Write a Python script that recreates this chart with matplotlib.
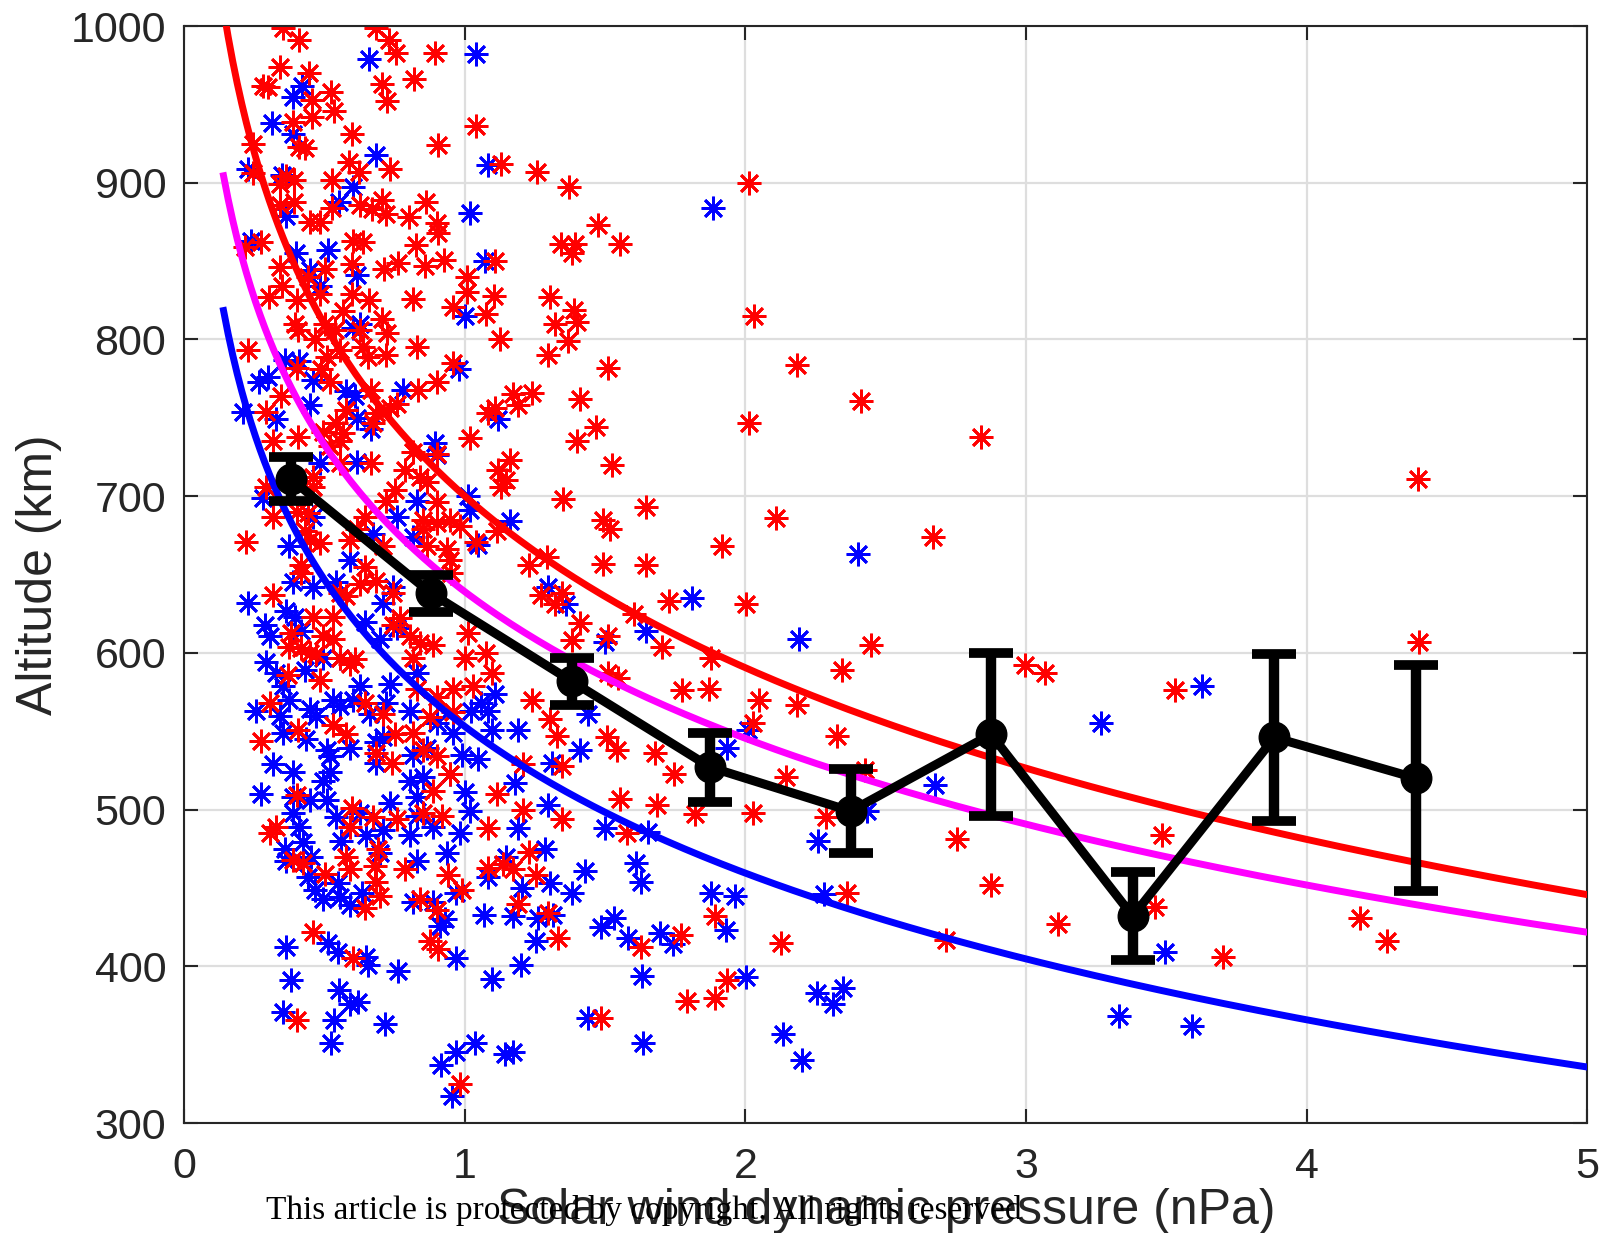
import matplotlib
matplotlib.use('Agg')
import matplotlib.pyplot as plt
import numpy as np

# individual crossings: solar wind dynamic pressure (nPa) vs altitude (km)
red_p = [
    0.352, 0.409, 0.685, 0.73, 0.753, 0.895, 0.342, 0.445, 0.704, 0.82, 0.28, 0.30, 0.523, 0.457,
    0.724, 0.533, 0.457, 0.387, 0.599, 0.43, 0.41, 0.904, 0.245, 0.588, 0.623, 0.733, 0.364, 0.34,
    0.39, 0.525, 0.245, 0.626, 0.67, 0.706, 0.72, 0.86, 0.80, 0.34, 0.39, 0.525, 0.447, 0.485,
    0.90, 0.905, 0.275, 0.215, 0.60, 0.637, 0.826, 0.34, 0.50, 0.596, 0.763, 0.711, 0.858, 0.926,
    0.441, 0.35,
    1.039, 1.13, 1.256, 1.371, 1.476, 1.342, 1.392, 1.38, 1.553, 1.107, 1.009, 1.009, 1.104, 1.303,
    0.40, 0.483, 0.66, 0.302, 0.596, 0.816, 0.957, 0.566, 0.393, 0.405, 0.50, 0.536, 0.703, 0.723,
    0.626, 0.465, 0.227, 0.828, 0.637, 0.554, 0.507, 0.655, 0.72, 0.40, 0.489, 0.518, 0.959, 0.90,
    0.834, 0.667, 0.346, 0.757, 0.733, 0.292, 0.578, 0.685, 0.673, 0.542, 0.495, 0.405, 0.566, 0.554,
    0.316, 0.518, 0.90, 0.816, 0.786, 0.667, 0.554, 0.459, 0.459, 0.84, 0.864, 0.751, 0.72, 0.90,
    0.292, 0.316, 0.40, 0.44, 0.644, 0.614, 0.852, 0.90, 0.947, 0.983, 0.852, 0.221, 0.43, 0.447,
    0.483, 0.59, 0.709, 0.864, 0.935, 0.947,
    1.077, 1.39, 1.398, 1.321, 1.124, 1.368, 1.295, 1.511, 1.172, 1.238, 1.19, 1.41, 1.083, 1.107,
    1.466, 1.398, 1.017, 1.523, 1.16, 1.118, 1.148, 1.13, 1.351, 1.645, 1.493, 1.517, 1.916, 1.113,
    1.041, 1.291, 1.23, 1.493, 1.645,
    0.417, 0.417, 0.643, 0.685, 0.626, 0.316, 0.554, 0.578, 0.745, 0.459, 0.53, 0.745, 0.769, 0.381,
    0.495, 0.53, 0.375, 0.417, 0.447, 0.471, 0.554, 0.607, 0.59, 0.804, 0.84, 0.887, 0.816, 0.37,
    0.483, 0.828, 0.899, 0.959, 0.304, 0.643, 0.709, 0.875, 0.959, 0.405, 0.53, 0.578, 0.751, 0.816,
    0.275, 0.685, 0.739, 0.852, 0.899, 0.947, 0.40, 0.887, 0.596, 0.59, 0.673, 0.757, 0.852, 0.917,
    0.328, 0.304,
    0.952, 1.273, 1.321, 1.345, 1.726, 1.601, 1.41, 1.011, 1.38, 1.511, 1.702, 1.878, 1.077, 1.0,
    1.095, 1.511, 1.547, 1.029, 1.238, 1.773, 1.869, 1.303, 1.327, 1.505, 1.541, 1.678, 1.744, 1.208,
    1.345, 1.113, 1.553, 1.684, 1.208, 1.345, 1.821, 1.083, 1.577,
    0.387, 0.423, 0.50, 0.578, 0.59, 0.679, 0.691, 0.685, 0.697, 0.643, 0.786, 0.941, 0.99, 0.84,
    0.899, 0.459, 0.602, 0.875, 0.905, 0.40, 0.983,
    1.083, 1.136, 1.172, 1.228, 1.255, 1.19, 1.295, 1.333, 1.628, 1.771, 1.893, 1.791, 1.893, 1.485,
    2.012, 2.032, 2.182, 2.412, 2.012, 2.839, 2.108, 2.667, 4.398, 4.40, 2.002, 2.447, 2.343, 2.996,
    3.067, 3.531, 2.049, 2.182, 2.028, 2.325, 2.144, 2.426, 2.028, 2.287, 2.753, 3.483, 2.363, 2.874,
    3.115, 3.459, 2.125, 2.716, 1.935, 3.702, 4.19, 4.285,
]
red_h = [
    999, 991, 999, 991, 983, 983, 974, 970, 963, 966, 962, 961, 958, 953,
    952, 946, 942, 939, 931, 922, 923, 924, 925, 913, 907, 909, 904, 899,
    902, 902, 906, 886, 883, 889, 880, 888, 878, 886, 888, 884, 875, 875,
    874, 868, 862, 859, 863, 862, 860, 846, 845, 848, 849, 845, 847, 851,
    840, 834,
    936, 912, 907, 897, 873, 861, 861, 855, 861, 850, 840, 830, 828, 827,
    825, 829, 825, 827, 829, 826, 821, 818, 810, 806, 810, 806, 813, 804,
    806, 800, 793, 795, 795, 793, 789, 789, 790, 782, 781, 773, 785, 773,
    768, 768, 764, 759, 756, 754, 755, 753, 747, 747, 741, 738, 740, 735,
    735, 732, 727, 728, 717, 721, 721, 712, 706, 712, 709, 704, 697, 696,
    706, 687, 690, 689, 687, 679, 685, 683, 685, 681, 679, 671, 678, 672,
    670, 672, 668, 668, 666, 659,
    816, 819, 811, 810, 800, 799, 790, 782, 765, 766, 758, 762, 753, 756,
    744, 735, 737, 720, 723, 717, 710, 706, 698, 693, 685, 679, 668, 678,
    671, 661, 656, 657, 656,
    656, 651, 655, 646, 644, 637, 638, 636, 638, 623, 623, 618, 622, 613,
    611, 609, 604, 603, 600, 599, 597, 596, 593, 611, 606, 605, 597, 586,
    583, 577, 572, 577, 568, 568, 561, 559, 562, 551, 554, 548, 548, 549,
    544, 536, 530, 538, 534, 523, 509, 512, 501, 489, 495, 494, 498, 496,
    489, 485,
    651, 637, 631, 638, 633, 625, 619, 613, 608, 611, 604, 597, 600, 597,
    587, 587, 584, 579, 570, 576, 577, 558, 547, 546, 538, 536, 523, 529,
    528, 510, 507, 503, 500, 494, 497, 488, 485,
    468, 466, 459, 470, 462, 464, 475, 454, 445, 437, 462, 458, 449, 443,
    436, 422, 405, 416, 411, 366, 325,
    463, 465, 462, 473, 458, 440, 434, 418, 412, 420, 432, 378, 380, 367,
    900, 815, 784, 761, 747, 738, 686, 674, 711, 607, 631, 605, 589, 592,
    587, 576, 570, 567, 555, 547, 521, 525, 498, 495, 481, 484, 447, 452,
    427, 438, 415, 417, 391, 406, 431, 416,
]

blue_p = [
    0.657, 0.418, 0.387, 0.314, 0.387, 0.683, 0.227, 0.35, 0.60, 0.552, 0.364, 0.239, 0.397, 0.514,
    0.447, 0.617, 0.483,
    1.039, 1.083, 1.019, 1.883, 1.071,
    0.626, 0.602, 0.358, 0.41, 0.268, 0.298, 0.459, 0.578, 0.607, 0.78, 0.209, 0.447, 0.328, 0.614,
    0.667, 0.893, 0.90, 0.483, 0.614, 0.28, 0.828, 0.757, 0.459, 0.673, 0.816, 0.375, 0.59,
    0.999, 0.98, 1.118, 1.011, 1.017, 1.16, 1.045,
    0.387, 0.459, 0.227, 0.364, 0.393, 0.286, 0.304, 0.417, 0.542, 0.709, 0.745, 0.643, 0.697, 0.757,
    0.554, 0.495, 0.292, 0.328, 0.352, 0.43, 0.626, 0.733, 0.828, 0.256, 0.34, 0.375, 0.447, 0.47,
    0.53, 0.554, 0.60, 0.661, 0.72, 0.804, 0.352, 0.435, 0.507, 0.518, 0.59, 0.685, 0.709, 0.899,
    0.959, 0.316, 0.387, 0.495, 0.518, 0.685, 0.816, 0.864, 0.804, 0.852, 0.275, 0.387, 0.447, 0.507,
    0.733, 0.828, 0.947, 0.387, 0.41, 0.542, 0.626, 0.828, 0.887, 0.709,
    1.297, 1.362, 1.809, 1.645, 1.499, 1.107, 1.059, 1.023, 1.083, 1.44, 1.095, 1.19, 0.988, 1.047,
    1.41, 1.309, 1.178, 1.0, 1.017, 1.297, 1.19, 1.499, 1.654, 0.982,
    0.423, 0.358, 0.453, 0.364, 0.56, 0.649, 0.804, 0.828, 0.441, 0.465, 0.495, 0.548, 0.554, 0.59,
    0.632, 0.697, 0.816, 0.887, 0.911, 0.935, 0.97, 0.361, 0.512, 0.548, 0.649, 0.655, 0.762, 0.97,
    0.381, 0.552, 0.59, 0.62, 0.352, 0.533, 0.715, 0.524, 0.97, 0.914, 0.953,
    1.148, 1.083, 1.285, 1.428, 1.61, 1.628, 1.202, 1.303, 1.38, 1.069, 1.172, 1.261, 1.315, 1.255,
    1.485, 1.533, 1.583, 1.696, 1.74, 1.878, 0.928, 1.199, 1.095, 1.63, 1.437, 1.636, 1.035, 1.142,
    1.172,
    2.402, 2.192, 2.01, 1.934, 2.675, 2.432, 2.26, 3.266, 3.626, 1.963, 2.278, 1.93, 2.002, 2.256,
    2.346, 2.313, 2.134, 2.2, 3.494, 3.332, 3.591,
]
blue_h = [
    979, 962, 955, 938, 931, 918, 909, 905, 897, 888, 879, 863, 855, 857,
    844, 841, 834,
    982, 911, 881, 884, 850,
    810, 807, 787, 786, 773, 776, 774, 767, 764, 768, 754, 758, 749, 750,
    743, 734, 726, 721, 722, 699, 697, 687, 687, 676, 674, 668, 659,
    815, 781, 749, 700, 691, 684, 669,
    645, 642, 632, 627, 623, 618, 611, 614, 645, 632, 642, 620, 609, 616,
    597, 597, 594, 587, 579, 589, 579, 580, 587, 563, 560, 570, 564, 560,
    570, 566, 570, 561, 568, 563, 549, 545, 538, 534, 539, 543, 546, 555,
    549, 529, 524, 518, 524, 530, 535, 539, 518, 521, 510, 508, 506, 506,
    504, 508, 523, 498, 489, 495, 498, 496, 489, 487,
    642, 631, 635, 614, 607, 574, 568, 563, 563, 561, 551, 551, 535, 532,
    538, 530, 517, 511, 499, 503, 488, 488, 486, 485,
    479, 475, 470, 467, 480, 484, 484, 467, 457, 449, 443, 453, 444, 439,
    447, 472, 441, 441, 426, 472, 447, 412, 415, 409, 406, 401, 397, 405,
    391, 385, 376, 377, 371, 366, 363, 351, 345, 337, 317,
    470, 457, 475, 461, 466, 454, 450, 453, 447, 433, 432, 431, 433, 416,
    425, 431, 418, 421, 414, 447, 430, 401, 392, 394, 367, 351, 351, 344,
    345,
    663, 609, 551, 539, 516, 499, 480, 555, 579, 445, 446, 423, 393, 383,
    386, 376, 357, 340, 409, 368, 362,
]

# binned means with error bars
bin_p = [0.38, 0.88, 1.38, 1.875, 2.375, 2.875, 3.38, 3.885, 4.39]
bin_h = [711, 638, 582, 527, 499, 548, 432, 546, 520]
bin_err = [14, 12, 15, 22, 27, 52, 28, 53, 72]

# logarithmic fits h = a - b*ln(P): (a, b, colour)
fits = [
    (700, 158, '#ff0000'),
    (639, 135, '#ff00ff'),
    (553, 135, '#0000ff'),
]

plt.rcParams['font.family'] = ['Liberation Sans', 'DejaVu Sans']
fig = plt.figure(figsize=(16.05, 12.33), dpi=100)
ax = fig.add_axes([0.1148, 0.0892, 0.8742, 0.8897])

star = (8, 2, 0)
ax.plot(blue_p, blue_h, ls='none', marker=star, ms=17, mew=2.0, color='#0000ff', zorder=2)
ax.plot(red_p, red_h, ls='none', marker=star, ms=17, mew=2.0, color='#ff0000', zorder=2)

p = np.linspace(0.14, 5, 300)
for a, b, c in fits:
    ax.plot(p, a - b * np.log(p), color=c, lw=5, zorder=3)

ax.errorbar(bin_p, bin_h, yerr=bin_err, color='k', lw=6.5, elinewidth=7.5,
            capsize=16, capthick=7, marker='o', ms=22, zorder=5)

ax.set_xlim(0, 5)
ax.set_ylim(300, 1000)
ax.set_xticks(range(0, 6))
ax.set_yticks(range(300, 1001, 100))
ax.grid(True, color='#dedede', lw=1.6)
ax.set_axisbelow(True)
ax.tick_params(direction='in', length=10, width=1.5, top=True, right=True,
               labelsize=31, colors='#262626')
ax.tick_params(axis='x', pad=17)
ax.tick_params(axis='y', pad=13)
for s in ax.spines.values():
    s.set_linewidth(1.5)
    s.set_color('#262626')

ax.set_xlabel('Solar wind dynamic pressure (nPa)', fontsize=36, color='#262626')
ax.set_ylabel('Altitude (km)', fontsize=36, color='#262626')
ax.xaxis.set_label_coords(0.5, -0.059)
ax.yaxis.set_label_coords(-0.087, 0.5)

fig.text(266 / 1605, 1 - 1211 / 1233, 'This article is protected by copyright. All rights reserved',
         family='Liberation Serif', fontsize=24, va='center', ha='left', color='k')

fig.savefig('out.png', dpi=100)
